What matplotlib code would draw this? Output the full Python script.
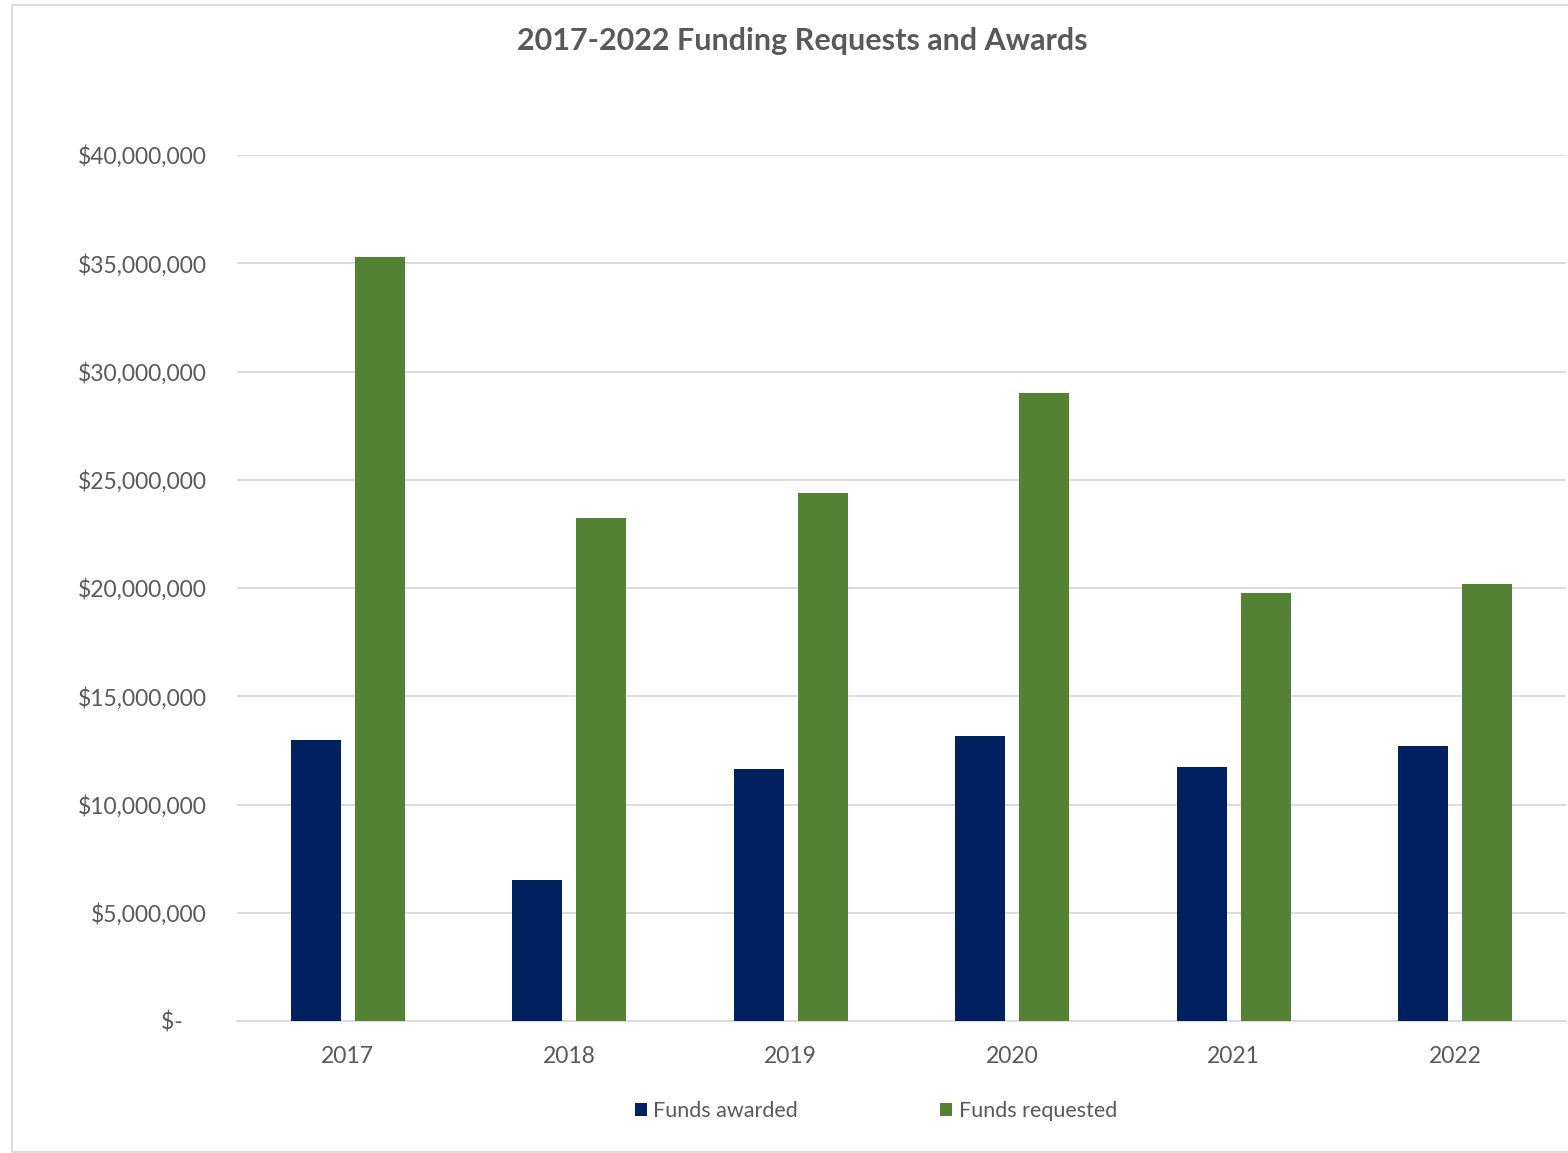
import matplotlib.pyplot as plt
from matplotlib.patches import Rectangle
import numpy as np

years = ["2017", "2018", "2019", "2020", "2021", "2022"]
awarded = [13.0e6, 6.5e6, 11.65e6, 13.15e6, 11.75e6, 12.7e6]
requested = [35.3e6, 23.25e6, 24.4e6, 29.0e6, 19.75e6, 20.2e6]
ytick_vals = [0, 5e6, 10e6, 15e6, 20e6, 25e6, 30e6, 35e6, 40e6]

navy = "#002060"
green = "#548235"
grid_c = "#D9D9D9"
txt = "#595959"

plt.rcParams['font.family'] = ['Lato', 'DejaVu Sans']

fig = plt.figure(figsize=(15.68, 11.53), dpi=100)
ax = fig.add_axes([237/1568, 1-1021/1153, 1329/1568, (1021-155)/1153])

x = np.arange(len(years))
w = 0.226
off = 0.1445
ax.bar(x - off, awarded, w, color=navy, label="Funds awarded", zorder=3)
ax.bar(x + off, requested, w, color=green, label="Funds requested", zorder=3)

ax.set_xlim(-0.5, len(years) - 0.5)
ax.set_ylim(0, 40e6)
ax.set_yticks(ytick_vals)
ax.set_yticklabels(["$-    " if v == 0 else "${:,.0f}".format(v) for v in ytick_vals])
ax.set_xticks(x)
ax.set_xticklabels(years)
ax.grid(axis='y', color=grid_c, linewidth=1.3, zorder=0)
for s in ["top", "right", "left"]:
    ax.spines[s].set_visible(False)
ax.spines["bottom"].set_color(grid_c)
ax.spines["bottom"].set_linewidth(1.3)
ax.tick_params(axis='y', length=0, pad=22, labelsize=16.5, labelcolor=txt)
ax.tick_params(axis='x', length=0, pad=18, labelsize=16.5, labelcolor=txt)

fig.text(802/1568, 1-41/1153, "2017-2022 Funding Requests and Awards", ha='center', va='center',
         fontsize=22, fontweight='bold', color=txt)

leg = fig.legend(loc='center', bbox_to_anchor=(876/1568, 1-1111/1153), ncol=2, frameon=False,
                 fontsize=15.5, handlelength=0.55, handleheight=0.55, handletextpad=0.3,
                 columnspacing=6.6)
for t in leg.get_texts():
    t.set_color(txt)

fig.patches.append(Rectangle((12/1568, 1-1152/1153), 1.1, (1152-5)/1153, transform=fig.transFigure,
                             fill=False, edgecolor=grid_c, linewidth=1.3))

fig.savefig("out.png", dpi=100)
